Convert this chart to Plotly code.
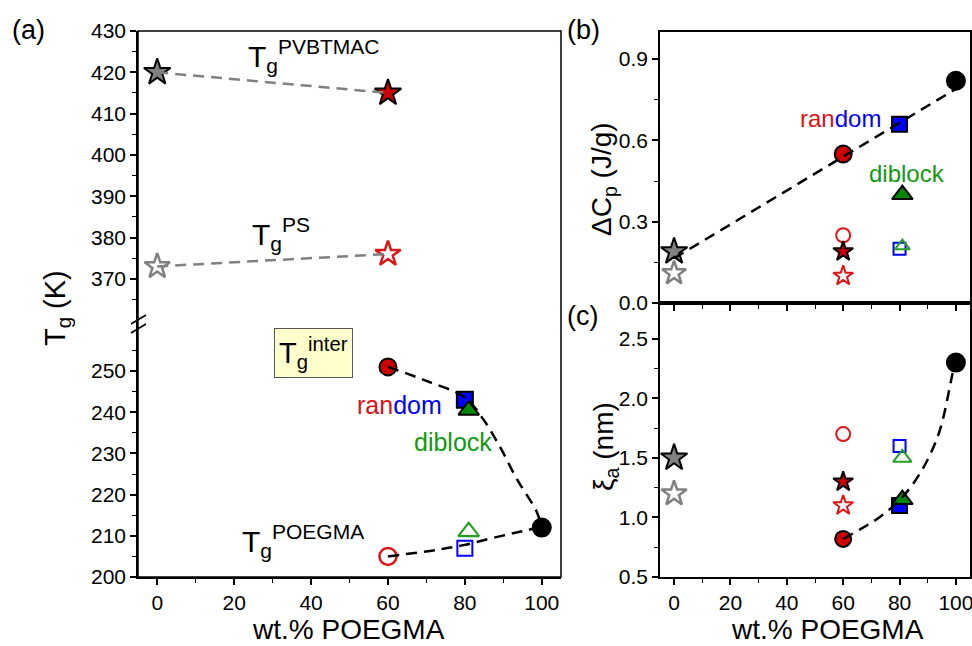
import plotly.graph_objects as go

W, H = 972, 646
def px(x): return x / W
def py(y): return 1 - y / H

# ---------------- data ----------------
# panel (a) upper: Tg of the charged block
pvb_x = [0, 60]
tg_pvbtmac = [420, 415]
ps_x = [0, 60]
tg_ps = [373, 376]
# panel (a) lower: interfacial Tg and POEGMA Tg
inter_x = [60, 80, 81, 100]
tg_inter = [251, 243, 240.5, 212]
poegma_x = [60, 80, 81]
tg_poegma = [205, 207, 211]
# guide curves
fit_inter_x = [60, 70, 80, 84.4, 89, 93.5, 98.7, 100]
fit_inter_y = [251, 247.6, 243.6, 238.8, 231.8, 223.8, 215.8, 212]
fit_poe_x = [60, 73.5, 80, 86, 92.5, 97.7]
fit_poe_y = [205, 206.7, 207.8, 209.2, 210.6, 211.7]

# panel (b): Delta Cp (J/g)
b_x = [0, 0, 60, 60, 60, 60, 80, 80, 81, 81, 100]
dcp = [0.19, 0.11, 0.55, 0.25, 0.19, 0.10, 0.66, 0.20, 0.40, 0.21, 0.82]
fit_b_x = [0, 100]
fit_b_y = [0.165, 0.79]

# panel (c): xi_a (nm)
c_x = [0, 0, 60, 60, 60, 60, 80, 80, 81, 81, 100]
xi = [1.50, 1.20, 0.82, 1.70, 1.30, 1.10, 1.10, 1.60, 1.15, 1.50, 2.30]
fit_c_x = [60, 66, 72.8, 81, 88, 94, 98.2, 99.2]
fit_c_y = [0.82, 0.90, 1.00, 1.17, 1.40, 1.71, 2.14, 2.26]

x_ticks = [0, 20, 40, 60, 80, 100]

# ---------------- styles ----------------
RED = "#CC0000"
RED_O = "#DD1515"
BLUE = "#0000FF"
GREEN = "#008800"
GREEN_O = "#22A022"
GRAY = "#808080"
FONT = "Liberation Sans, Arial, sans-serif"

fig = go.Figure()

def pt(xa, ya, x, y, symbol, fill, size, lc="black", lw=2):
    fig.add_trace(go.Scatter(
        x=[x], y=[y], xaxis=xa, yaxis=ya, mode="markers", showlegend=False,
        marker=dict(symbol=symbol, color=fill, size=size,
                    line=dict(color=lc, width=lw))))

def curve(xa, ya, xs, ys, color="black", width=2.5, shape="spline"):
    fig.add_trace(go.Scatter(
        x=xs, y=ys, xaxis=xa, yaxis=ya, mode="lines", showlegend=False,
        line=dict(color=color, width=width, dash="11px,7px", shape=shape,
                  smoothing=1.0)))

# ---- panel (a) upper ----
pt("x", "y", pvb_x[0], tg_pvbtmac[0], "star", GRAY, 20)
pt("x", "y", pvb_x[1], tg_pvbtmac[1], "star", RED, 20)
pt("x", "y", ps_x[0], tg_ps[0], "star-open", GRAY, 19, lw=2.5)
pt("x", "y", ps_x[1], tg_ps[1], "star-open", RED_O, 19, lw=2.5)
curve("x", "y", pvb_x, tg_pvbtmac, GRAY, 2.5, "linear")
curve("x", "y", ps_x, tg_ps, GRAY, 2.5, "linear")

# ---- panel (a) lower ----
pt("x", "y2", poegma_x[0], tg_poegma[0], "circle-open", RED_O, 17, lw=2.5)
pt("x", "y2", poegma_x[1], tg_poegma[1], "square-open", BLUE, 15, lw=2)
pt("x", "y2", poegma_x[2], tg_poegma[2], "triangle-up-open", GREEN_O, 18, lw=2.2)
pt("x", "y2", inter_x[0], tg_inter[0], "circle", RED, 17)
pt("x", "y2", inter_x[1], tg_inter[1], "square", BLUE, 16)
pt("x", "y2", inter_x[2], tg_inter[2], "triangle-up", GREEN, 18)
pt("x", "y2", inter_x[3], tg_inter[3], "circle", "black", 18)
curve("x", "y2", fit_inter_x, fit_inter_y)
curve("x", "y2", fit_poe_x, fit_poe_y)

# ---- panel (b) ----
b_styles = [
    ("star", GRAY, 20, "black", 2),
    ("star-open", GRAY, 18, None, 2.5),
    ("circle", RED, 17, "black", 2),
    ("circle-open", RED_O, 14, None, 2),
    ("star", RED, 15, "black", 2),
    ("star-open", RED_O, 15, None, 2),
    ("square", BLUE, 15, "black", 2),
    ("square-open", BLUE, 12, None, 2),
    ("triangle-up", GREEN, 18, "black", 2),
    ("triangle-up-open", GREEN_O, 13, None, 2),
    ("circle", "black", 18, "black", 2),
]
for i, (s, f, sz, lc, lw) in enumerate(b_styles):
    pt("x2", "y3", b_x[i], dcp[i], s, f, sz, lc or f, lw)
curve("x2", "y3", fit_b_x, fit_b_y, shape="linear")

# ---- panel (c) ----
c_styles = [
    ("star", GRAY, 20, "black", 2),
    ("star-open", GRAY, 19, None, 2.5),
    ("circle", RED, 16, "black", 2),
    ("circle-open", RED_O, 14, None, 2),
    ("star", RED, 15, "black", 2),
    ("star-open", RED_O, 15, None, 2),
    ("square", BLUE, 15, "black", 2),
    ("square-open", BLUE, 12, None, 2),
    ("triangle-up", GREEN, 18, "black", 2),
    ("triangle-up-open", GREEN_O, 16, None, 2),
    ("circle", "black", 18, "black", 2),
]
for i, (s, f, sz, lc, lw) in enumerate(c_styles):
    pt("x3", "y4", c_x[i], xi[i], s, f, sz, lc or f, lw)
curve("x3", "y4", fit_c_x, fit_c_y)

# ---------------- axes ----------------
tickfont = dict(family=FONT, size=21, color="black")
MINOR = dict(ticklen=4, tickwidth=1.2, tickcolor="black", ticks="outside")
def axis(**kw):
    base = dict(showgrid=False, zeroline=False, ticks="outside", ticklen=6,
                tickwidth=1.5, tickcolor="black", showline=True,
                linecolor="black", linewidth=1.5, tickfont=tickfont,
                automargin=False, ticklabeloverflow="allow")
    base.update(kw)
    return base

ax_a_x0, ax_a_x1 = 138, 561
ax_bc_x0, ax_bc_x1 = 660, 970
a_top, a_brk, a_bot = 31, 320, 577
b_top, bc_mid, c_bot = 32, 303, 577

fig.update_layout(
    width=W, height=H, margin=dict(l=0, r=0, t=0, b=0, autoexpand=False),
    paper_bgcolor="white", plot_bgcolor="white",
    font=dict(family=FONT, color="black"),
    xaxis=axis(domain=[px(ax_a_x0), px(ax_a_x1)], range=[-5, 105],
               anchor="y2", tickvals=x_ticks,
               minor=dict(tickvals=[10, 30, 50, 70, 90], **MINOR)),
    yaxis=axis(domain=[py(a_brk), py(a_top)], range=[430 - (a_brk - a_top) / 4.13, 430],
               anchor="x", tickvals=[370, 380, 390, 400, 410, 420, 430],
               minor=dict(tickvals=[365, 375, 385, 395, 405, 415, 425], **MINOR)),
    yaxis2=axis(domain=[py(a_bot), py(a_brk)], range=[200, 200 + (a_bot - a_brk) / 4.12],
                anchor="x", tickvals=[200, 210, 220, 230, 240, 250],
                minor=dict(tickvals=[205, 215, 225, 235, 245, 255], **MINOR)),
    xaxis2=axis(domain=[px(ax_bc_x0), px(ax_bc_x1)], range=[-5, 105], anchor="y3",
                tickvals=x_ticks, showticklabels=False, mirror=True,
                minor=dict(tickvals=[10, 30, 50, 70, 90], **MINOR)),
    yaxis3=axis(domain=[py(bc_mid), py(b_top)], range=[0, 1.0], anchor="x2",
                tickvals=[0.0, 0.3, 0.6, 0.9], ticktext=["0.0", "0.3", "0.6", "0.9"],
                mirror=True,
                minor=dict(tickvals=[0.15, 0.45, 0.75], **MINOR)),
    xaxis3=axis(domain=[px(ax_bc_x0), px(ax_bc_x1)], range=[-5, 105], anchor="y4",
                tickvals=x_ticks, mirror=True,
                minor=dict(tickvals=[10, 30, 50, 70, 90], **MINOR)),
    yaxis4=axis(domain=[py(c_bot), py(bc_mid)], range=[0.5, 2.8], anchor="x3",
                tickvals=[0.5, 1.0, 1.5, 2.0, 2.5],
                ticktext=["0.5", "1.0", "1.5", "2.0", "2.5"], mirror=True,
                minor=dict(tickvals=[0.75, 1.25, 1.75, 2.25], **MINOR)),
)

# frame of panel (a) and axis-break marks
shapes = [
    dict(type="rect", xref="paper", yref="paper", x0=px(ax_a_x0), x1=px(ax_a_x1),
         y0=py(a_bot), y1=py(a_top), line=dict(color="black", width=1.5)),
    dict(type="line", xref="paper", yref="paper", x0=px(131), y0=py(324),
         x1=px(146), y1=py(315), line=dict(color="black", width=1.5)),
    dict(type="line", xref="paper", yref="paper", x0=px(131), y0=py(333),
         x1=px(146), y1=py(324), line=dict(color="black", width=1.5)),
]
fig.update_layout(shapes=shapes)

def ann(text, x, y, size, color="black", xanchor="center", yanchor="middle",
        angle=0, **kw):
    fig.add_annotation(text=text, x=px(x), y=py(y), xref="paper", yref="paper",
                       showarrow=False, xanchor=xanchor, yanchor=yanchor,
                       textangle=angle,
                       font=dict(family=FONT, size=size, color=color), **kw)

ann("(a)", 28, 30, 27)
ann("(b)", 583, 30, 27)
ann("(c)", 582, 316, 27)
ann("T<sub>g</sub> (K)", 57, 308, 29, angle=-90)
ann("ΔC<sub>p</sub> (J/g)", 603, 179, 28, angle=-90)
ann("ξ<sub>a</sub> (nm)", 605, 447, 28, angle=-90)
ann("wt.% POEGMA", 348, 629, 28)
ann("wt.% POEGMA", 827, 629, 28)

ann("T<sub>g</sub><sup>PVBTMAC</sup>", 246, 56, 30, xanchor="left")
ann("T<sub>g</sub><sup>PS</sup>", 250, 234, 30, xanchor="left")
ann("T<sub>g</sub><sup>POEGMA</sup>", 240, 541, 30, xanchor="left")
ann("T<sub>g</sub><sup>inter</sup>", 313, 353, 29, bgcolor="#FFFFCC",
    bordercolor="#555555", borderwidth=1, borderpad=4)

ann("<span style='color:#DD1111'>ran</span><span style='color:#0000FF'>dom</span>",
    399, 405, 25)
ann("diblock", 453, 442, 25, color="#119911")
ann("<span style='color:#DD1111'>ran</span><span style='color:#0000FF'>dom</span>",
    840, 118, 24)
ann("diblock", 907, 173, 24, color="#119911")

fig.write_html("out.html")
